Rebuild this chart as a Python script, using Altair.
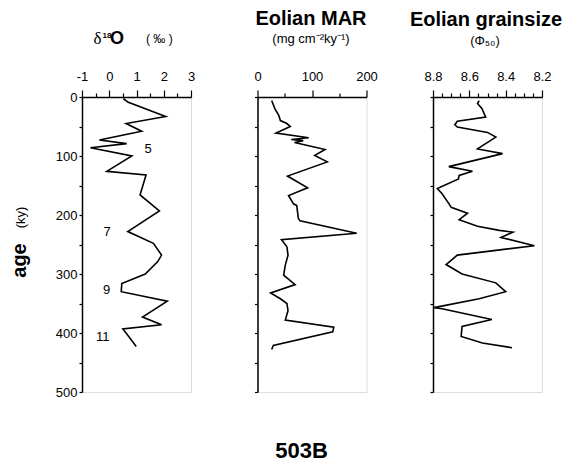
import altair as alt
import pandas as pd

# ---------------- data ----------------
d18o_age = [3, 9, 33, 45, 58, 73, 79, 86, 100, 126, 132, 166, 193, 228, 248, 268,
            279, 300, 316, 330, 346, 373, 386, 393, 405, 423]
d18o_val = [0.52, 0.70, 2.07, 0.62, 1.19, -0.36, 0.64, -0.69, 0.83, -0.09, 1.35, 1.13,
            1.84, 0.68, 1.62, 1.92, 1.78, 1.32, 0.46, 0.44, 2.13, 1.22, 1.92, 0.50,
            0.70, 0.99]

mar_age = [6, 20, 31, 40, 45, 50, 61, 69, 72, 74, 77, 89, 99, 110, 134, 154, 167, 181,
           184, 206, 210, 231, 242, 254, 268, 285, 302, 318, 332, 342, 350, 362, 378,
           390, 398, 421, 428]
mar_val = [26, 32, 39, 42, 54, 60, 34, 94, 62, 84, 68, 124, 105, 128, 55, 92, 57, 66,
           72, 75, 78, 182, 44, 54, 56, 51, 48, 69, 24, 42, 54, 56, 51, 140, 138, 29, 26]

gs_age = [6, 11, 20, 34, 41, 47, 51, 60, 68, 88, 96, 118, 126, 133, 139, 155, 164, 182,
          187, 197, 208, 219, 226, 229, 238, 252, 268, 284, 300, 315, 330, 342, 357,
          359, 377, 389, 406, 417, 425]
gs_val = [8.546, 8.555, 8.53, 8.51, 8.666, 8.68, 8.666, 8.50, 8.454, 8.555, 8.417,
          8.713, 8.583, 8.656, 8.66, 8.776, 8.75, 8.71, 8.70, 8.61, 8.656, 8.555, 8.435,
          8.36, 8.426, 8.242, 8.666, 8.728, 8.64, 8.454, 8.40, 8.546, 8.795, 8.75,
          8.476, 8.64, 8.645, 8.528, 8.365]

stage_text = ["5", "7", "9", "11"]
stage_val = [1.43, -0.08, -0.10, -0.24]
stage_age = [88, 229, 327, 406]

age_ticks = [0, 50, 100, 150, 200, 250, 300, 350, 400, 450, 500]
d18o_ticks = [-1, -0.5, 0, 0.5, 1, 1.5, 2, 2.5, 3]
mar_ticks = [0, 50, 100, 150, 200]
gs_ticks = [8.2, 8.25, 8.3, 8.35, 8.4, 8.45, 8.5, 8.55, 8.6, 8.65, 8.7, 8.75, 8.8]

# ---------------- style ----------------
FONT = "Liberation Sans"
W, H = 109, 295

df1 = pd.DataFrame({"age": d18o_age, "val": d18o_val})
df2 = pd.DataFrame({"age": mar_age, "val": mar_val})
df3 = pd.DataFrame({"age": gs_age, "val": gs_val})
dfs = pd.DataFrame({"age": stage_age, "val": stage_val, "t": stage_text})


def yenc(show_labels):
    return alt.Y(
        "age:Q",
        scale=alt.Scale(domain=[0, 500], reverse=True, nice=False, zero=False),
        axis=alt.Axis(
            values=age_ticks, labels=show_labels, labelOverlap=False,
            labelExpr="datum.value % 100 === 0 ? datum.label : ''",
            tickSize=3, tickWidth=1.2, tickColor="black",
            domainColor="black", domainWidth=1.5,
            labelFont=FONT, labelFontSize=13, labelColor="black", labelPadding=2,
            title=None, grid=False,
        ),
    )


def xenc(domain, values, major_test, label_expr, reverse=False):
    return alt.X(
        "val:Q",
        scale=alt.Scale(domain=domain, nice=False, zero=False, reverse=reverse),
        axis=alt.Axis(
            orient="top", values=values, labelExpr=label_expr,
            labelOverlap=False, labelFlush=False,
            tickSize={"condition": {"test": major_test, "value": 7}, "value": 4},
            tickWidth=1.2, tickColor="black",
            domainColor="black", domainWidth=1.5,
            labelFont=FONT, labelFontSize=13, labelColor="black", labelPadding=7,
            labelAngle=0, title=None, grid=False,
        ),
    )


def txt(s, x, y, size, weight="normal", font=FONT, align="center", angle=0):
    return alt.Chart(pd.DataFrame({"t": [s]})).mark_text(
        font=font, fontSize=size, fontWeight=weight, align=align,
        baseline="alphabetic", color="black", angle=angle,
    ).encode(text="t:N", x=alt.value(x), y=alt.value(y))


line_style = dict(color="black", strokeWidth=1.6)

# ---- panel 1: d18O ----
x1 = xenc([-1, 3], d18o_ticks, "round(datum.value * 2) % 2 === 0",
          "round(datum.value * 2) % 2 === 0 ? (datum.value < 0 ? '-' + format(-datum.value, 'd') : format(datum.value, 'd')) : ''")
line1 = alt.Chart(df1).mark_line(**line_style).encode(
    x=x1, y=yenc(True), order="age:Q",
)
stages = alt.Chart(dfs).mark_text(
    font=FONT, fontSize=13, color="black", align="center", baseline="middle"
).encode(x=x1, y=yenc(True), text="t:N")
anchor = alt.Chart(pd.DataFrame({"a": [0]})).mark_rule(color="white", strokeWidth=1).encode(
    x=alt.value(-72.5), y=alt.value(-88), y2=alt.value(-86)
)
p1 = alt.layer(
    line1, stages, anchor,
    txt("δ", 11.5, -53.5, 17, font="Liberation Serif", align="left"),
    txt("18", 20.5, -59, 8, weight="bold", align="left"),
    txt("O", 28, -53.5, 18, weight="bold", align="left"),
    txt("( ‰ )", 64, -54, 12, align="left"),
    txt("age", -56, 163.5, 20, weight="bold", angle=270),
    txt("(ky)", -57, 120.5, 13, angle=270),
).properties(width=W, height=H)

# ---- panel 2: MAR ----
line2 = alt.Chart(df2).mark_line(**line_style).encode(
    x=xenc([0, 200], mar_ticks, "datum.value % 100 === 0",
           "datum.value % 100 === 0 ? datum.label : ''"),
    y=yenc(False),
    order="age:Q",
)
p2 = alt.layer(
    line2,
    txt("Eolian MAR", 53.5, -72, 20, weight="bold"),
    txt("(mg cm⁻²ky⁻¹)", 53.5, -54.5, 13),
    txt("503B", 44, 361, 22, weight="bold"),
).properties(width=W, height=H)

# ---- panel 3: grain size ----
line3 = alt.Chart(df3).mark_line(**line_style).encode(
    x=xenc([8.2, 8.8], gs_ticks, "round(datum.value * 20) % 4 === 0",
           "round(datum.value * 20) % 4 === 0 ? format(datum.value, '.1f') : ''",
           reverse=True),
    y=yenc(False),
    order="age:Q",
)
p3 = alt.layer(
    line3,
    txt("Eolian grainsize", 53, -71.5, 20, weight="bold"),
    txt("(Φ₅₀)", 52, -52.5, 13),
).properties(width=W, height=H)

chart = alt.hconcat(p1, p2, p3, spacing=66.5).properties(
    bounds="flush", padding=0
).configure_view(stroke=None).configure(background="white")

chart.save("out.html", embed_options={"renderer": "svg", "actions": False})
